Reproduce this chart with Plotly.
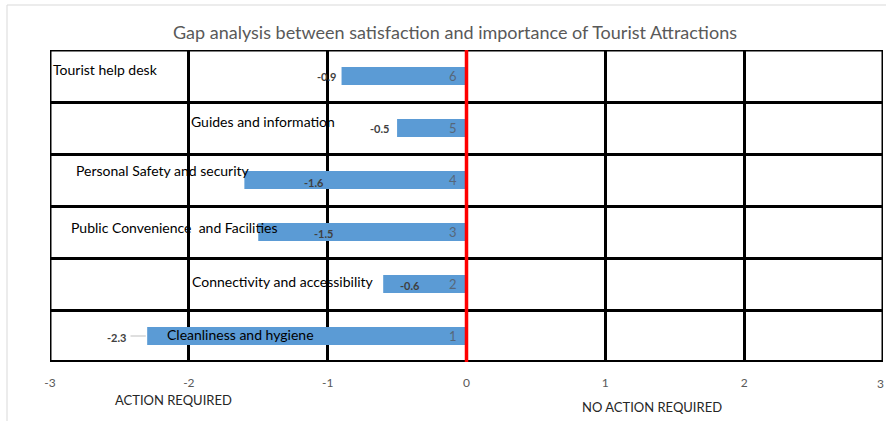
import plotly.graph_objects as go

# Attraction attributes, ranked 1 (bottom) to 6 (top)
categories = [
    "Cleanliness and hygiene",
    "Connectivity and accessibility",
    "Public Convenience  and Facilities",
    "Personal Safety and security",
    "Guides and information",
    "Tourist help desk",
]
ranks = [1, 2, 3, 4, 5, 6]
gaps = [-2.3, -0.6, -1.5, -1.6, -0.5, -0.9]
x_ticks = [-3, -2, -1, 0, 1, 2, 3]

# Label placement (data coordinates)
cat_label_x = [-2.175, -1.995, -2.865, -2.83, -2.0, -2.99]
cat_label_dy = [0.02, 0.04, 0.08, 0.19, 0.13, 0.13]
val_label_x = [-2.52, -0.41, -1.03, -1.10, -0.63, -1.01]
val_label_dy = [-0.02, -0.02, -0.02, -0.04, 0.0, 0.0]

FONT = "Lato"
BAR_BLUE = "#5B9BD5"

L, R, T, B = 50, 3, 50, 59
W, H = 886, 421
PW, PH = W - L - R, H - T - B


def px_x(px):
    return (px - L) / PW


def px_y(py):
    return (H - B - py) / PH


fig = go.Figure()
fig.add_trace(go.Bar(
    x=gaps, y=ranks, orientation="h", width=0.35,
    marker=dict(color=BAR_BLUE, line=dict(width=0)),
    hoverinfo="skip",
))

annotations = []
for r, g, name, cx, cdy, vx, vdy in zip(ranks, gaps, categories, cat_label_x,
                                         cat_label_dy, val_label_x, val_label_dy):
    # category name
    annotations.append(dict(x=cx, y=r + cdy, text=name, showarrow=False,
                            xanchor="left", yanchor="middle",
                            font=dict(family=FONT, size=14, color="#000000")))
    # gap value
    annotations.append(dict(x=vx, y=r + vdy, text=f"<b>{g}</b>", showarrow=False,
                            xanchor="center", yanchor="middle",
                            font=dict(family=FONT, size=11, color="#404040")))
    # rank number inside bar base
    annotations.append(dict(x=-0.1, y=r, text=str(r), showarrow=False,
                            xanchor="center", yanchor="middle",
                            font=dict(family=FONT, size=13, color="#56677a")))

# last tick label sits at the right edge of the figure, keep it inside the page
tick_font = dict(family=FONT, size=12, color="#595959")
tick_text = [str(t) for t in x_ticks]
annotations.append(dict(xref="paper", yref="paper", x=1 + R / PW, y=px_y(383),
                        text=tick_text[-1], showarrow=False, xanchor="right",
                        yanchor="middle", font=tick_font))
tick_text[-1] = ""

# axis captions
annotations.append(dict(xref="paper", yref="paper", x=px_x(173), y=px_y(400),
                        text="ACTION REQUIRED", showarrow=False, xanchor="center", yanchor="middle",
                        font=dict(family=FONT, size=13, color="#262626")))
annotations.append(dict(xref="paper", yref="paper", x=px_x(652), y=px_y(407),
                        text="NO ACTION REQUIRED", showarrow=False, xanchor="center", yanchor="middle",
                        font=dict(family=FONT, size=13, color="#262626")))

shapes = [
    # plot frame
    dict(type="line", xref="x", yref="y", x0=-3, x1=-3, y0=0.5, y1=6.5,
         line=dict(color="#000000", width=3), layer="above"),
    dict(type="line", xref="x", yref="y", x0=3, x1=3, y0=0.5, y1=6.5,
         line=dict(color="#000000", width=3), layer="above"),
    dict(type="line", xref="x", yref="y", x0=-3, x1=3, y0=6.5, y1=6.5,
         line=dict(color="#000000", width=3), layer="above"),
    dict(type="line", xref="x", yref="y", x0=-3, x1=3, y0=0.5, y1=0.5,
         line=dict(color="#000000", width=4), layer="above"),
    # zero line
    dict(type="line", xref="x", yref="y", x0=0, x1=0, y0=0.5, y1=6.5,
         line=dict(color="#FF0000", width=3.5), layer="above"),
    # leader line for the longest bar
    dict(type="line", xref="x", yref="y", x0=-2.42, x1=-2.31, y0=1, y1=1,
         line=dict(color="#BFBFBF", width=1)),
    # chart area outline
    dict(type="line", xref="paper", yref="paper", x0=px_x(7), x1=px_x(886),
         y0=px_y(5), y1=px_y(5), line=dict(color="#D9D9D9", width=1)),
    dict(type="line", xref="paper", yref="paper", x0=px_x(7), x1=px_x(7),
         y0=px_y(5), y1=px_y(421), line=dict(color="#D9D9D9", width=1)),
]

fig.update_layout(
    width=W, height=H,
    margin=dict(l=L, r=R, t=T, b=B),
    paper_bgcolor="white", plot_bgcolor="white",
    showlegend=False,
    title=dict(text="Gap analysis between satisfaction and importance of Tourist Attractions",
               x=455 / W, xanchor="center", y=1 - 33 / H, yanchor="middle",
               font=dict(family=FONT, size=18, color="#595959")),
    xaxis=dict(range=[-3, 3], tickvals=x_ticks, ticktext=tick_text,
               showgrid=True, gridcolor="#000000", gridwidth=3, zeroline=False,
               showline=False, ticks="", ticklabelstandoff=12,
               tickfont=tick_font, fixedrange=True),
    yaxis=dict(range=[0.5, 6.5], tickvals=[1.5, 2.5, 3.5, 4.5, 5.5],
               showticklabels=False, showgrid=True, gridcolor="#000000", gridwidth=3,
               zeroline=False, showline=False, ticks="", fixedrange=True),
    annotations=annotations,
    shapes=shapes,
)

fig.write_html("out.html")
